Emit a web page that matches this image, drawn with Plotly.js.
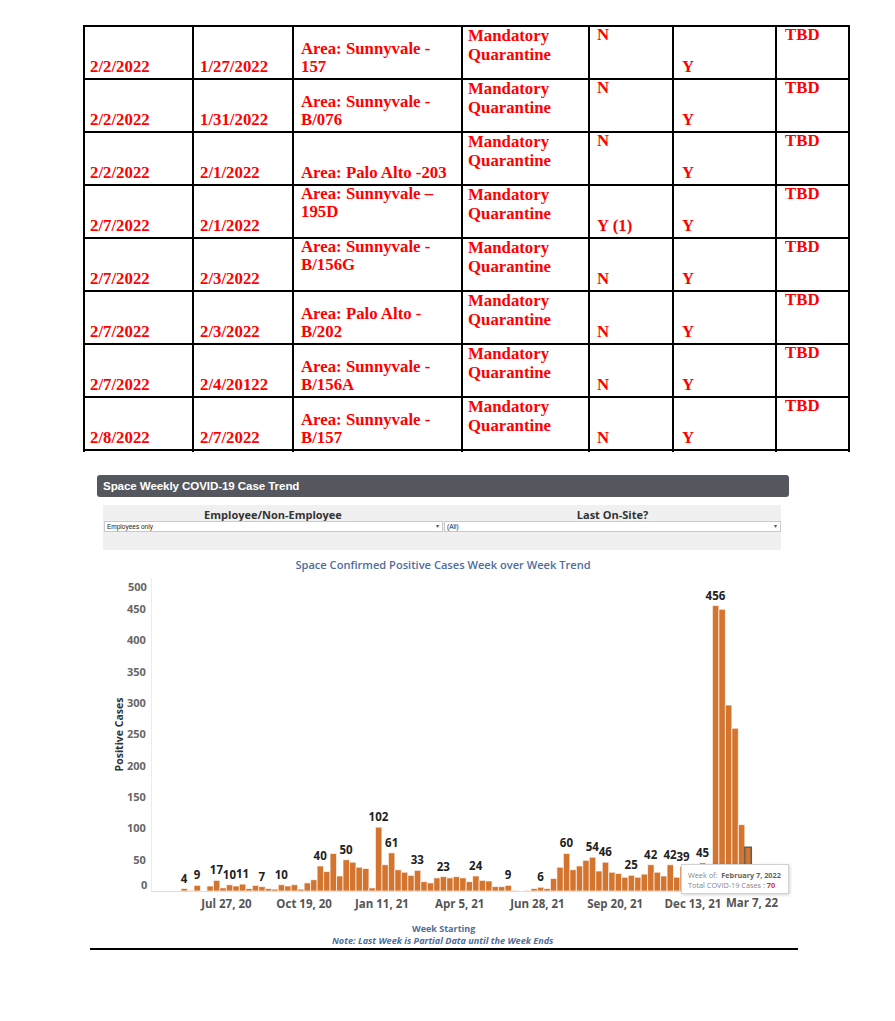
<!DOCTYPE html>
<html>
<head>
<meta charset="utf-8">
<script src="https://cdn.plot.ly/plotly-3.0.1.min.js"></script>
<style>
html,body{margin:0;padding:0;background:#fff;}
body{position:relative;width:895px;height:1021px;overflow:hidden;font-family:"Open Sans",sans-serif;}
.tl{position:absolute;background:#000;}
.tc{position:absolute;white-space:pre;font-family:"Liberation Serif","Times New Roman",serif;font-weight:bold;font-size:16.8px;color:#ff0000;}
#header{position:absolute;left:97px;top:475px;width:692px;height:22px;background:#54575d;border-radius:3px;}
#header span{position:absolute;left:6px;top:4px;color:#fff;font-family:"Liberation Sans",Arial,sans-serif;font-weight:bold;font-size:11.6px;line-height:14px;letter-spacing:-0.1px;}
#filters{position:absolute;left:103px;top:505px;width:678px;height:45px;background:#f0f0f0;}
.flabel{position:absolute;top:3px;font-family:"Open Sans",sans-serif;font-weight:700;font-size:11px;line-height:14px;color:#333;text-align:center;}
.dd{position:absolute;top:16px;height:11px;background:#fff;border:1px solid #c9c9c9;box-sizing:border-box;font-family:"Liberation Sans",Arial,sans-serif;font-size:6.5px;line-height:9px;color:#222;}
.dd .t{position:absolute;left:2px;top:0;}
.dd .a{position:absolute;right:3px;top:0;font-size:6px;color:#555;}
#chart{position:absolute;left:0;top:555px;width:895px;height:400px;}
#tip{position:absolute;left:681px;top:864px;width:108px;height:30px;background:#fff;border:1px solid #d2d2d2;box-sizing:border-box;box-shadow:1px 1px 3px rgba(0,0,0,0.18);font-family:"Open Sans",sans-serif;font-size:7.3px;line-height:10px;color:#858585;z-index:5;}
#tip div{position:absolute;left:6px;white-space:nowrap;}
#rule{position:absolute;left:90px;top:948px;width:708px;height:2px;background:#000;}
</style>
</head>
<body>
<div id="table"></div>
<div id="header"><span>Space Weekly COVID-19 Case Trend</span></div>
<div id="filters">
  <div class="flabel" style="left:1px;width:338px;">Employee/Non-Employee</div>
  <div class="flabel" style="left:341px;width:337px;">Last On-Site?</div>
  <div class="dd" style="left:1px;width:339px;"><span class="t">Employees only</span><span class="a">&#9662;</span></div>
  <div class="dd" style="left:341px;width:337px;"><span class="t">(All)</span><span class="a">&#9662;</span></div>
</div>
<div id="chart"></div>
<div id="tip">
  <div style="top:5px;">Week of:&nbsp; <b style="color:#626262">February 7, 2022</b></div>
  <div style="top:15px;">Total COVID-19 Cases : <b style="color:#e0322f">70</b></div>
</div>
<div id="rule"></div>
<script>
// ---------------- Table data ----------------
const reportDates = ['2/2/2022','2/2/2022','2/2/2022','2/7/2022','2/7/2022','2/7/2022','2/7/2022','2/8/2022'];
const caseDates   = ['1/27/2022','1/31/2022','2/1/2022','2/1/2022','2/3/2022','2/3/2022','2/4/20122','2/7/2022'];
const areas = ['Area: Sunnyvale -\n157','Area: Sunnyvale -\nB/076','Area: Palo Alto -203','Area: Sunnyvale \u2013\n195D',
               'Area: Sunnyvale -\nB/156G','Area: Palo Alto -\nB/202','Area: Sunnyvale -\nB/156A','Area: Sunnyvale -\nB/157'];
const areaAlign = ['bottom','bottom','bottom','top','top','bottom','bottom','bottom'];
const actions = ['Mandatory\nQuarantine','Mandatory\nQuarantine','Mandatory\nQuarantine','Mandatory\nQuarantine',
                 'Mandatory\nQuarantine','Mandatory\nQuarantine','Mandatory\nQuarantine','Mandatory\nQuarantine'];
const col5 = ['N','N','N','Y (1)','N','N','N','N'];
const col5Align = ['top','top','top','bottom','bottom','bottom','bottom','bottom'];
const col6 = ['Y','Y','Y','Y','Y','Y','Y','Y'];
const col7 = ['TBD','TBD','TBD','TBD','TBD','TBD','TBD','TBD'];

const colX = [83,192,292,461,588,672,775,848];
const textX = [90,200,301,468,597,682,785];
const tableTop = 25, rowH = 53;

(function buildTable(){
  const t = document.getElementById('table');
  const n = reportDates.length;
  const bottom = tableTop + n*rowH + 1;
  for(let i=0;i<=n;i++){
    const d=document.createElement('div'); d.className='tl';
    d.style.left=colX[0]+'px'; d.style.top=(tableTop+i*rowH)+'px';
    d.style.width=(colX[colX.length-1]-colX[0]+1.5)+'px'; d.style.height='1.5px';
    t.appendChild(d);
  }
  colX.forEach(x=>{
    const d=document.createElement('div'); d.className='tl';
    d.style.left=x+'px'; d.style.top=tableTop+'px';
    d.style.width='1.5px'; d.style.height=(bottom-tableTop+2)+'px';
    t.appendChild(d);
  });
  const FS = 16.8;
  function put(txt, x, rowTop, align, LH, topBase){
    const lines = txt.split('\n').length;
    const firstBase = align==='top' ? rowTop+topBase : rowTop+48.4-(lines-1)*LH;
    const base = (LH - FS*(0.891+0.216))/2 + FS*0.891;
    const d=document.createElement('div'); d.className='tc';
    d.style.lineHeight = LH+'px';
    d.textContent=txt; d.style.left=x+'px'; d.style.top=(firstBase-base)+'px';
    t.appendChild(d);
  }
  for(let i=0;i<n;i++){
    const top = tableTop+i*rowH;
    put(reportDates[i], textX[0], top, 'bottom', 18.5, 15.6);
    put(caseDates[i], textX[1], top, 'bottom', 18.5, 15.6);
    put(areas[i], textX[2], top, areaAlign[i], 18.5, 15.6);
    put(actions[i], textX[3], top, 'top', 19.6, 16.2);
    put(col5[i], textX[4], top, col5Align[i], 18.5, 15.9);
    put(col6[i], textX[5], top, 'bottom', 18.5, 15.6);
    put(col7[i], textX[6], top, 'top', 18.5, 15.9);
  }
})();

// ---------------- Chart data ----------------
const firstWeek = '2020-06-08';
const cases = [4,1,9,0,8,17,5,10,8,11,
               4,9,7,4,3,10,8,10,3,13,
               18,40,31,60,24,50,46,38,36,5,
               102,42,61,34,30,25,33,15,13,21,
               23,21,23,21,15,24,17,16,7,7,
               9,1,0,1,4,6,4,20,38,60,
               34,40,49,54,32,46,30,28,22,25,
               22,27,42,30,24,42,22,39,30,28,
               45,38,456,450,297,260,106,70];
const labeledWeeks = [1,3,6,8,10,13,16,22,26,31,33,37,41,46,51,56,60,64,66,70,73,76,78,81,83];
const xTickVals = ['2020-07-27','2020-10-19','2021-01-11','2021-04-05','2021-06-28','2021-09-20','2021-12-13'];
const xTickText = ['Jul 27, 20','Oct 19, 20','Jan 11, 21','Apr 5, 21','Jun 28, 21','Sep 20, 21','Dec 13, 21'];
const lastTickText = 'Mar 7, 22';
const yTickVals = [50,100,150,200,250,300,350,400,450];
const yEdgeTicks = [0,500];

const DAY = 86400000;
const weeks = cases.map((_,i)=>{
  const d = new Date(Date.parse(firstWeek+'T00:00:00Z') + i*7*DAY);
  return d.toISOString().slice(0,10);
});
const labels = cases.map((v,i)=> labeledWeeks.includes(i+1) ? String(v) : '');
const lineColors = cases.map((_,i)=> i===cases.length-1 ? '#5e5e5e' : 'rgba(255,255,255,0.85)');
const lineWidths = cases.map((_,i)=> i===cases.length-1 ? 1.5 : 0.8);

const ORANGE = '#D4752F', BLUE = '#4e6d9b';
const FONT = '"Open Sans", sans-serif';

const trace = {
  type:'bar', x:weeks, y:cases, width:7*DAY, offset:0,
  marker:{color:ORANGE, line:{color:lineColors, width:lineWidths}},
  text:labels, textposition:'outside', constraintext:'none', cliponaxis:false,
  textfont:{family:FONT, size:11.5, color:'#222', weight:700},
  hoverinfo:'skip'
};

const tickFontY = {family:FONT, size:11, color:'#666', weight:700};
const tickFontX = {family:FONT, size:11.5, color:'#555', weight:700};

const annotations = yEdgeTicks.map(v=>({
  xref:'paper', x:0, xanchor:'right', xshift:-3,
  yref:'y', y:v, yanchor: v===0 ? 'bottom':'top', yshift: v===0 ? -3 : 1,
  text:String(v), showarrow:false, font:tickFontY
}));
annotations.push({xref:'paper', x:1, xanchor:'right', yref:'paper', y:-0.038, yanchor:'middle',
  text:lastTickText, showarrow:false, font:tickFontX});
annotations.push({xref:'paper', x:(443-152)/628, xanchor:'center', yref:'paper', y:-0.1214, yanchor:'middle',
  text:'Week Starting', showarrow:false, font:{family:FONT, size:9, color:BLUE, weight:700}});
annotations.push({xref:'paper', x:(443-152)/628, xanchor:'center', yref:'paper', y:-0.1597, yanchor:'middle',
  text:'Note: Last Week is Partial Data until the Week Ends', showarrow:false,
  font:{family:FONT, size:9.1, color:BLUE, weight:700, style:'italic'}});

const layout = {
  width:895, height:400,
  margin:{l:152, r:115, t:23, b:64},
  paper_bgcolor:'rgba(0,0,0,0)', plot_bgcolor:'rgba(0,0,0,0)',
  bargap:0, showlegend:false,
  title:{text:'Space Confirmed Positive Cases Week over Week Trend',
         font:{family:FONT, size:11.1, color:BLUE, weight:600},
         xref:'container', x:443/895, xanchor:'center', yref:'container', y:1-10/400, yanchor:'middle'},
  xaxis:{type:'date', range:['2020-05-07 16:00','2022-03-17'],
         tickvals:xTickVals, ticktext:xTickText, tickfont:tickFontX,
         showgrid:false, zeroline:false, showline:true, linecolor:'#dedede', linewidth:1,
         ticks:'', ticklen:0, ticklabelstandoff:2, fixedrange:true},
  yaxis:{range:[0,500], tickvals:yTickVals, ticktext:yTickVals.map(String), tickfont:tickFontY,
         showgrid:false, zeroline:false, showline:true, linecolor:'#ececec', linewidth:1,
         ticks:'', ticklen:0, ticklabelstandoff:3, fixedrange:true,
         title:{text:'Positive Cases', font:{family:FONT, size:10.5, color:'#333', weight:700}, standoff:1}},
  annotations:annotations
};

Plotly.newPlot('chart', [trace], layout, {staticPlot:true, displayModeBar:false});
</script>
</body>
</html>
